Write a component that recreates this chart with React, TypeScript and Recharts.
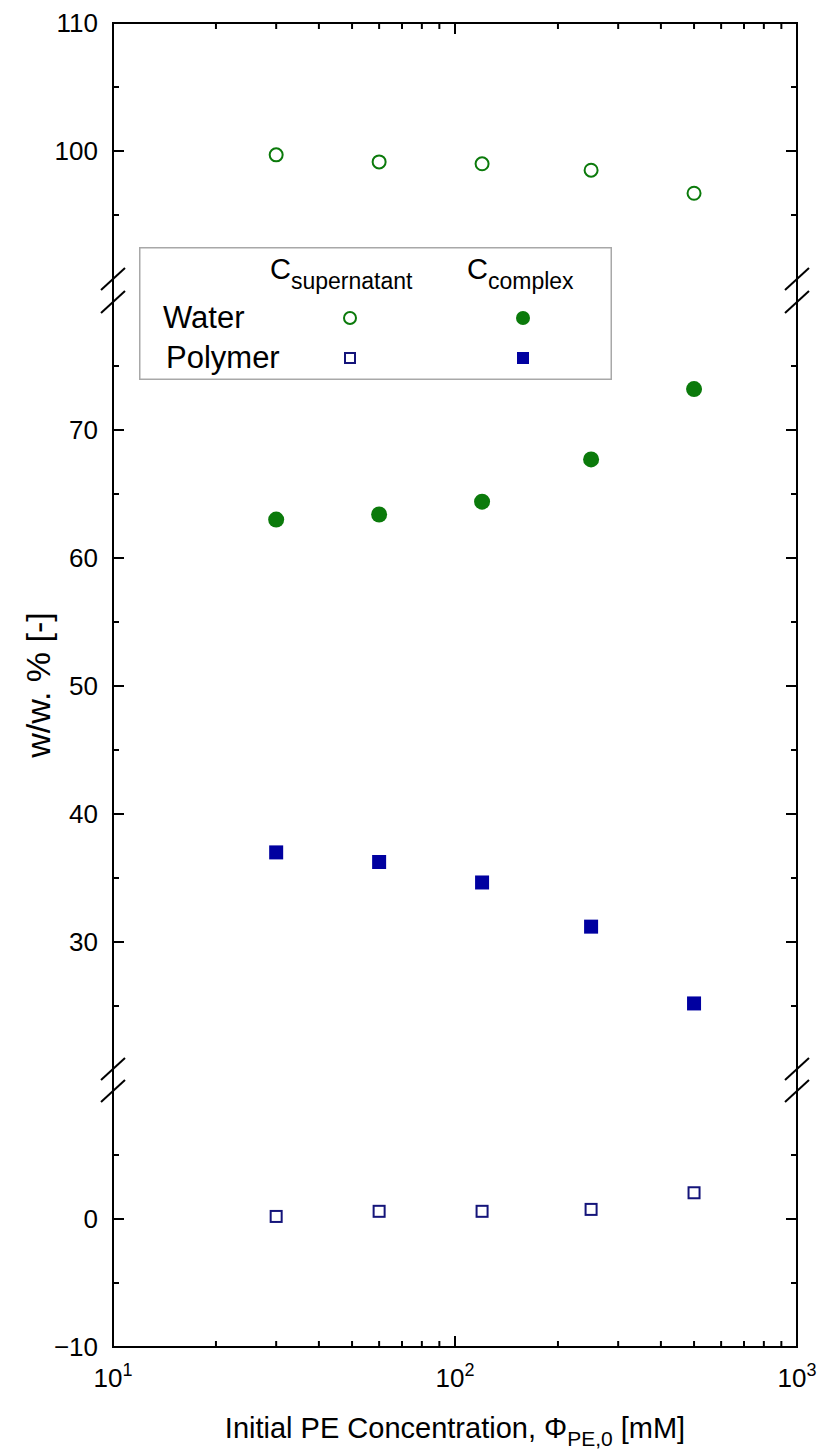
import React from 'react'
import { ScatterChart, Scatter, XAxis, YAxis, Legend } from 'recharts'

// Initial PE concentration [mM]
const concentrations = [30, 60, 120, 250, 500]

// w/w. % values
const waterSupernatant = [99.7, 99.15, 99.0, 98.5, 96.7]
const waterComplex = [63.0, 63.4, 64.4, 67.7, 73.2]
const polymerComplex = [37.0, 36.25, 34.65, 31.2, 25.2]
const polymerSupernatant = [0.2, 0.6, 0.6, 0.75, 2.05]

const xTicks = [10, 20, 30, 40, 50, 60, 70, 80, 90, 100, 200, 300, 400, 500, 600, 700, 800, 900, 1000]
const upperTicks = [95, 100, 105, 110]
const middleTicks = [25, 30, 35, 40, 45, 50, 55, 60, 65, 70, 75]
const lowerTicks = [-10, -5, 0, 5]

const W = 817
const H = 1452
const LEFT = 113
const RIGHT = 797
const FONT = '"Liberation Sans", Arial, Helvetica, sans-serif'
const GREEN = '#0b7a0b'
const BLUE = '#0000a0'
const NAVY = '#14147a'

const points = (ys: number[]) => concentrations.map((x, i) => ({ x, y: ys[i] }))

const isMajorX = (v: number) => Math.abs(Math.log10(v) - Math.round(Math.log10(v))) < 1e-9
const isMajorY = (v: number) => v % 10 === 0
const fmtY = (v: number) => (v < 0 ? `\u2212${Math.abs(v)}` : `${v}`)

function LeftTick(props: any) {
  const { y, payload } = props
  const x = LEFT
  const major = isMajorY(payload.value)
  return (
    <g>
      <line x1={x} x2={x + (major ? 11 : 6)} y1={y} y2={y} stroke="#000" strokeWidth={2} />
      {major && (
        <text x={x - 15} y={y} dy="0.36em" textAnchor="end" fontSize={26} fontFamily={FONT} fill="#000">
          {fmtY(payload.value)}
        </text>
      )}
    </g>
  )
}

function RightTick(props: any) {
  const { y, payload } = props
  const x = RIGHT
  const major = isMajorY(payload.value)
  return <line x1={x} x2={x - (major ? 11 : 6)} y1={y} y2={y} stroke="#000" strokeWidth={2} />
}

function TopTick(props: any) {
  const { x, payload } = props
  const y = 23
  const major = isMajorX(payload.value)
  return <line x1={x} x2={x} y1={y} y2={y + (major ? 11 : 6)} stroke="#000" strokeWidth={2} />
}

function BottomTick(props: any) {
  const { x, payload } = props
  const y = 1347
  const major = isMajorX(payload.value)
  const exp = Math.round(Math.log10(payload.value))
  return (
    <g>
      <line x1={x} x2={x} y1={y} y2={y - (major ? 11 : 6)} stroke="#000" strokeWidth={2} />
      {major && (
        <text x={x} y={y + 40} textAnchor="middle" fontSize={26} fontFamily={FONT} fill="#000">
          10
          <tspan fontSize={18} dy={-11}>{exp}</tspan>
        </text>
      )}
    </g>
  )
}

function YTitle() {
  return (
    <text
      x={38}
      y={685}
      transform="rotate(-90 38 685)"
      textAnchor="middle"
      dominantBaseline="central"
      fontSize={34}
      fontFamily={FONT}
      fill="#000"
    >
      w/w. % [-]
    </text>
  )
}

function XTitle() {
  return (
    <text x={455} y={1438} textAnchor="middle" fontSize={29} fontFamily={FONT} fill="#000">
      Initial PE Concentration, {'\u03A6'}
      <tspan fontSize={21} dy={8}>PE,0</tspan>
      <tspan dy={-8}> [mM]</tspan>
    </text>
  )
}

const OpenCircle = (p: any) => <circle cx={p.cx} cy={p.cy} r={6.5} fill="#fff" stroke={GREEN} strokeWidth={2} />
const FilledCircle = (p: any) => <circle cx={p.cx} cy={p.cy} r={8} fill={GREEN} />
const FilledSquare = (p: any) => <rect x={p.cx - 7} y={p.cy - 7} width={14} height={14} fill={BLUE} />
const OpenSquare = (p: any) => (
  <rect x={p.cx - 5.5} y={p.cy - 5.5} width={11} height={11} fill="#fff" stroke={NAVY} strokeWidth={2} />
)

function LegendBox() {
  return (
    <svg width={473} height={133} style={{ display: 'block' }}>
      <rect x={0.75} y={0.75} width={471.5} height={131.5} fill="#fff" stroke="#a8a8a8" strokeWidth={1.5} />
      <g fontFamily={FONT} fill="#000">
        <text x={131} y={32} fontSize={29}>
          C<tspan fontSize={23} dy={10}>supernatant</tspan>
        </text>
        <text x={328} y={32} fontSize={29}>
          C<tspan fontSize={23} dy={10}>complex</tspan>
        </text>
        <text x={24} y={81} fontSize={31}>Water</text>
        <text x={27} y={121} fontSize={31}>Polymer</text>
      </g>
      <circle cx={211} cy={71} r={6} fill="#fff" stroke={GREEN} strokeWidth={2} />
      <circle cx={384} cy={71} r={7} fill={GREEN} />
      <rect x={206} y={106} width={10} height={10} fill="#fff" stroke={NAVY} strokeWidth={2} />
      <rect x={378} y={105} width={12} height={12} fill={BLUE} />
    </svg>
  )
}

type Segment = { top: number; bottom: number; domain: [number, number]; ticks: number[] }

const upper: Segment = { top: 23, bottom: 279, domain: [90, 110], ticks: upperTicks }
const middle: Segment = { top: 302, bottom: 1070, domain: [20, 80], ticks: middleTicks }
const lower: Segment = { top: 1091, bottom: 1347, domain: [-10, 10], ticks: lowerTicks }

const axisLine = { stroke: '#000', strokeWidth: 2, strokeLinecap: 'square' as const }

function Panel({ seg, xMode, children, yLabel, legend }: {
  seg: Segment
  xMode: 'top' | 'bottom' | 'none'
  children: React.ReactNode
  yLabel?: boolean
  legend?: boolean
}) {
  // axes are 1px thick boxes, so the margins leave room for them
  const margin = {
    top: xMode === 'top' ? seg.top - 1 : seg.top,
    bottom: xMode === 'bottom' ? H - seg.bottom - 1 : H - seg.bottom,
    left: LEFT - 1,
    right: W - RIGHT - 1,
  }
  return (
    <div style={{ position: 'absolute', left: 0, top: 0 }}>
      <ScatterChart width={W} height={H} margin={margin}>
        <XAxis
          xAxisId="x"
          type="number"
          dataKey="x"
          scale="log"
          domain={[10, 1000]}
          ticks={xTicks}
          interval={0}
          allowDataOverflow
          hide={xMode === 'none'}
          orientation={xMode === 'top' ? 'top' : 'bottom'}
          height={1}
          tickSize={0}
          tickMargin={0}
          tickLine={false}
          axisLine={axisLine}
          tick={xMode === 'top' ? <TopTick /> : <BottomTick />}
          label={xMode === 'bottom' ? <XTitle /> : undefined}
        />
        <YAxis
          yAxisId="l"
          type="number"
          dataKey="y"
          domain={seg.domain}
          ticks={seg.ticks}
          interval={0}
          allowDataOverflow
          width={1}
          tickSize={0}
          tickMargin={0}
          tickLine={false}
          axisLine={axisLine}
          tick={<LeftTick />}
          label={yLabel ? <YTitle /> : undefined}
        />
        <YAxis
          yAxisId="r"
          orientation="right"
          type="number"
          domain={seg.domain}
          ticks={seg.ticks}
          interval={0}
          allowDataOverflow
          width={1}
          tickSize={0}
          tickMargin={0}
          tickLine={false}
          axisLine={axisLine}
          tick={<RightTick />}
        />
        {legend && (
          <Legend
            layout="horizontal"
            verticalAlign="middle"
            align="center"
            wrapperStyle={{ left: 139, top: 247, width: 473, height: 133 }}
            content={() => <LegendBox />}
          />
        )}
        {children}
      </ScatterChart>
    </div>
  )
}

function BreakMarks() {
  const gaps: [number, number][] = [[279, 302], [1069, 1091]]
  return (
    <svg width={W} height={H} style={{ position: 'absolute', left: 0, top: 0, pointerEvents: 'none' }}>
      {gaps.map(([a, b]) =>
        [LEFT, RIGHT].map((x) => (
          <g key={`${a}-${x}`} stroke="#000" strokeWidth={2}>
            <line x1={x} x2={x} y1={a} y2={b} />
            <line x1={x - 12} y1={a + 11} x2={x + 12} y2={a - 11} />
            <line x1={x - 12} y1={b + 11} x2={x + 12} y2={b - 11} />
          </g>
        ))
      )}
    </svg>
  )
}

export default function App() {
  return (
    <div style={{ position: 'absolute', left: 0, top: 0, width: W, height: H, background: '#fff' }}>
      <Panel seg={upper} xMode="top">
        <Scatter
          xAxisId="x"
          yAxisId="l"
          data={points(waterSupernatant)}
          shape={OpenCircle}
          isAnimationActive={false}
        />
      </Panel>
      <Panel seg={middle} xMode="none" yLabel>
        <Scatter
          xAxisId="x"
          yAxisId="l"
          data={points(waterComplex)}
          shape={FilledCircle}
          isAnimationActive={false}
        />
        <Scatter
          xAxisId="x"
          yAxisId="l"
          data={points(polymerComplex)}
          shape={FilledSquare}
          isAnimationActive={false}
        />
      </Panel>
      <Panel seg={lower} xMode="bottom" legend>
        <Scatter
          xAxisId="x"
          yAxisId="l"
          data={points(polymerSupernatant)}
          shape={OpenSquare}
          isAnimationActive={false}
        />
      </Panel>
      <BreakMarks />
    </div>
  )
}
